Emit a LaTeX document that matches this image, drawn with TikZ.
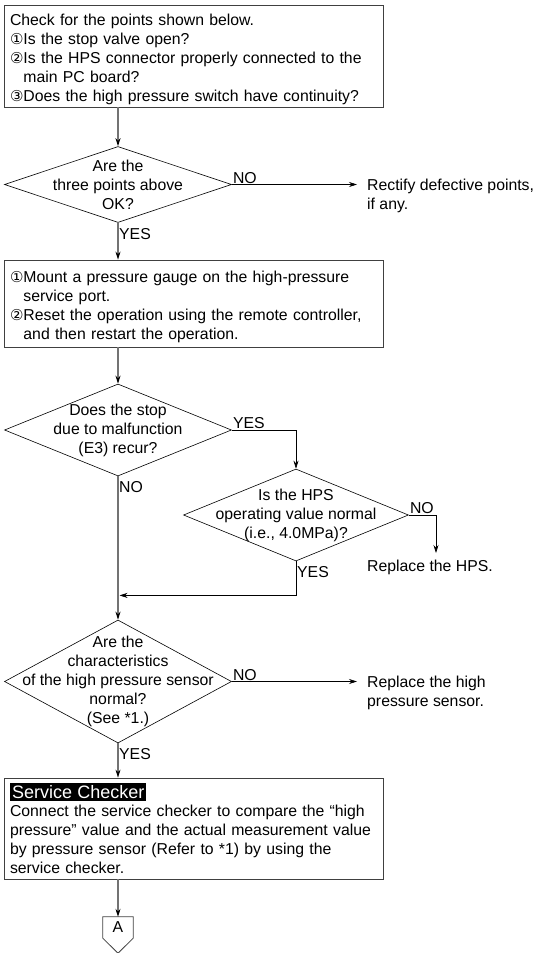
\documentclass[tikz,border=0pt]{standalone}
\usepackage{fontspec}
\setmainfont{Liberation Sans}
\newfontfamily\symfont{DejaVu Sans}
\usetikzlibrary{shapes.geometric, arrows.meta}
\newcommand{\cnum}[1]{{\symfont\fontsize{15}{15}\selectfont #1}}
\newcommand{\hangin}{\phantom{\cnum{①}}}
\newcommand{\lead}{\rule{0pt}{19pt}}
\tikzstyle{process} = [rectangle, minimum width=379pt, text width=367pt, inner xsep=6pt, inner ysep=0pt, align=left, draw=black!75, line width=0.8pt]
\tikzstyle{decision} = [diamond, inner sep=0pt, minimum width=227pt, draw=black, line width=0.6pt]
\tikzstyle{question} = [align=center, inner sep=0pt]
\tikzstyle{note} = [align=left, inner sep=0pt, anchor=north west]
\tikzstyle{answer} = [inner sep=1pt, anchor=south west]
\tikzstyle{answerbelow} = [inner sep=1pt, anchor=north west, yshift=-4pt]
\tikzstyle{arrow} = [line width=0.6pt, -{Stealth[length=8pt, width=5pt, color=black]}]
\tikzstyle{trunk} = [draw=black!55, line width=1.1pt]

\begin{document}
\begin{tikzpicture}[x=1pt, y=-1pt, font=\fontsize{15.8}{19}\selectfont]
\useasboundingbox (0,0) rectangle (535,953);

\node (check) [process, minimum height=102pt] at (193.5,56) {\lead Check for the points shown below.\\
\cnum{①}Is the stop valve open?\\
\cnum{②}Is the HPS connector properly connected to the\\
\hangin main PC board?\\
\cnum{③}Does the high pressure switch have continuity?};

\node (d1) [decision, minimum height=76pt] at (118,184.5) {};
\node (q1) [question] at (d1) {Are the\\three points above\\OK?};

\node (rectify) [note] at (367,179) {Rectify defective points,\\if any.};

\node (mount) [process, minimum height=87pt] at (193.5,303.5) {\lead\cnum{①}Mount a pressure gauge on the high-pressure\\
\hangin service port.\\
\cnum{②}Reset the operation using the remote controller,\\
\hangin and then restart the operation.};

\node (d2) [decision, minimum height=92pt] at (118,430) {};
\node (q2) [question] at (d2) {Does the stop\\due to malfunction\\(E3) recur?};

\node (d3) [decision, minimum width=225pt, minimum height=92pt] at (296,515) {};
\node (q3) [question] at (d3) {Is the HPS\\operating value normal\\(i.e., 4.0MPa)?};

\node (rephps) [note] at (367,560) {Replace the HPS.};
\coordinate (hpsturn) at (436,515);
\coordinate (join) at (118,595.4);

\node (d4) [decision, minimum height=123pt] at (118,681.5) {};
\node (q4) [question] at (d4) {Are the\\characteristics\\of the high pressure sensor\\normal?\\(See *1.)};

\node (repsens) [note] at (367,675.5) {Replace the high\\pressure sensor.};

\node (checker) [process, minimum height=101pt] at (193.5,828.5) {{\fontsize{18}{20}\selectfont\setlength{\fboxsep}{2pt}\colorbox{black}{\textcolor{white}{Service Checker}}}\\[-1pt]
Connect the service checker to compare the ``high\\
pressure'' value and the actual measurement value\\
by pressure sensor (Refer to *1) by using the\\
service checker.};

\node (conA) [minimum width=30pt, minimum height=21pt, inner sep=0pt] at (118,927.5) {A};
\draw [draw=black!75, line width=0.8pt] (conA.north west) -- (conA.north east) -- (conA.south east) -- ([yshift=-15pt]conA.south) -- (conA.south west) -- cycle;

\draw [arrow, trunk] (check.south -| d1.north) -- (d1.north);
\draw [arrow] (d1.east) -- (d1.east -| rectify.west) [shorten >=10pt];
\node [answer] at (d1.east) {NO};
\draw [arrow, trunk] (d1.south) -- (d1.south |- mount.north);
\node [answerbelow] at (d1.south) {YES};
\draw [arrow, trunk] (mount.south -| d2.north) -- (d2.north);
\draw [arrow] (d2.east) -| (d3.north);
\node [answer] at (d2.east) {YES};
\draw [arrow] (d3.east) -| ([yshift=7pt]hpsturn |- rephps.north);
\node [answer] at (d3.east) {NO};
\draw [arrow] (d3.south) |- ([xshift=1.5pt]join);
\node [answerbelow] at (d3.south) {YES};
\draw [arrow, trunk] (d2.south) -- (d4.north);
\node [answerbelow] at (d2.south) {NO};
\draw [arrow] (d4.east) -- (d4.east -| repsens.west) [shorten >=10pt];
\node [answer] at (d4.east) {NO};
\draw [arrow, trunk] (d4.south) -- (d4.south |- checker.north);
\node [answerbelow] at (d4.south) {YES};
\draw [arrow, trunk] (checker.south -| conA.north) -- (conA.north);
\end{tikzpicture}
\end{document}
